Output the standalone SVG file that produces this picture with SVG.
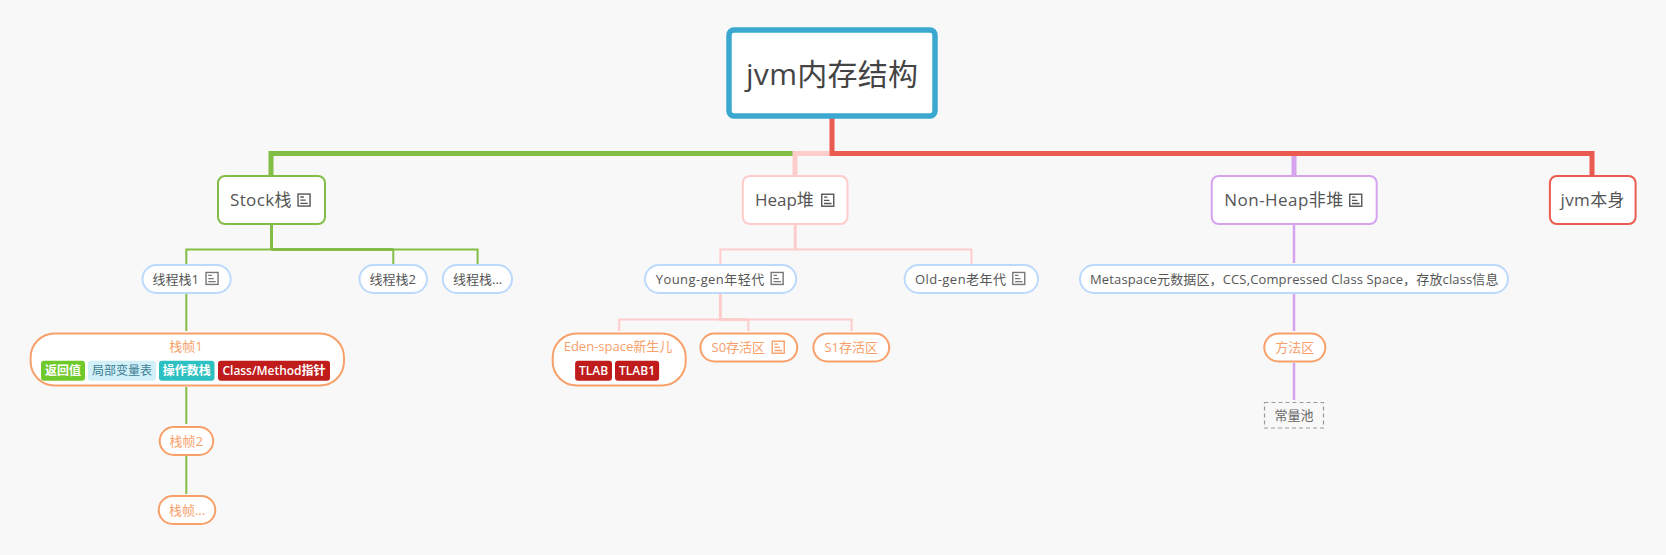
<svg xmlns="http://www.w3.org/2000/svg" width="1666" height="555" viewBox="0 0 1666 555">
<style>
text{font-family:"Open Sans","Noto Sans CJK SC",sans-serif;fill:#555}
.n{fill:#fff;stroke-width:2}
.l1{font-size:17px}
.l2{font-size:13px}
.l3{font-size:13px;fill:#f7a06a}
.g{stroke:#84bd45}.p{stroke:#ffcccc}.v{stroke:#d6a4ef}.r{stroke:#ea5c4f}
.b{stroke:#bcdafc}.o{stroke:#f7a06a}
.c{fill:none}
.tag{font-size:12px;font-weight:600;fill:#fff;text-anchor:middle}
.m{text-anchor:middle}
</style>
<defs>
<g id="ic" fill="none" stroke="currentColor">
<rect x="0.75" y="0.75" width="12" height="12" stroke-width="1.4"/>
<path d="M3 3.7h3.5M3 6.9h5.5M3 10h7.5" stroke-width="1.3"/>
</g>
</defs>
<rect width="1666" height="555" fill="#f8f8f8"/>
<g id="connectors" class="c">
<path class="g" stroke-width="5" d="M832 153.5H271V176"/>
<path class="p" stroke-width="5" d="M832 153.5H795V176"/>
<path class="v" stroke-width="5" d="M1294 153.5V176"/>
<path class="r" stroke-width="5" d="M832 118V153.5H1592V176"/>
<path class="g" stroke-width="3" d="M271.5 224V249.5"/>
<path class="g" stroke-width="2" d="M186.3 265V249.5H477.6V265M393.3 249.5V265"/>
<path class="g" stroke-width="3" d="M271.5 249.5H393.3"/>
<path class="g" stroke-width="2" d="M186.3 294V331M186.3 387V424M186.3 456V494"/>
<path class="p" stroke-width="3" d="M795.2 224V249.5"/>
<path class="p" stroke-width="2" d="M720.4 265V249.5H971.5V265"/>
<path class="p" stroke-width="3" d="M720.4 294V319.5H748.3"/>
<path class="p" stroke-width="2" d="M619.2 331V319.5H851.6V331M748.3 319.5V331"/>
<path class="v" stroke-width="2.5" d="M1294 224V263M1294 294V331M1294 363V400"/>
</g>
<g id="root"><rect x="729" y="30" width="206" height="86" rx="5" fill="#fff" stroke="#3ba8cf" stroke-width="5.5"/><text x="746" y="85" textLength="172" style="font-size:30px;fill:#444">jvm内存结构</text></g>
<g id="stock"><rect class="n g" x="218" y="176" width="107" height="48" rx="7"/><text class="l1" x="230" y="206" textLength="61.5">Stock栈</text><use href="#ic" x="297.3" y="193.3" color="#555"/></g>
<g id="heap"><rect class="n p" x="742.8" y="176" width="104.7" height="48" rx="7"/><text class="l1" x="754.9" y="206">Heap堆</text><use href="#ic" x="821" y="193.5" color="#555"/></g>
<g id="nonheap"><rect class="n v" x="1211.7" y="176" width="165" height="48" rx="7"/><text class="l1" x="1224.3" y="206" textLength="119">Non-Heap非堆</text><use href="#ic" x="1349" y="193.5" color="#555"/></g>
<g id="jvmself"><rect class="n r" x="1549.9" y="176" width="85.7" height="48" rx="7"/><text class="l1" x="1560.5" y="206" textLength="64">jvm本身</text></g>
<g id="t1"><rect class="n b" x="142.5" y="265" width="88.2" height="28" rx="14"/><text class="l2" x="152.5" y="283.5">线程栈1</text><use href="#ic" x="205.3" y="271.7" color="#777"/></g>
<g id="t2"><rect class="n b" x="359.5" y="265" width="67.5" height="28" rx="14"/><text class="l2" x="369.5" y="283.5">线程栈2</text></g>
<g id="t3"><rect class="n b" x="442.8" y="265" width="69.2" height="28" rx="14"/><text class="l2" x="453" y="283.5">线程栈...</text></g>
<g id="young"><rect class="n b" x="645" y="265" width="151.2" height="28" rx="14"/><text class="l2" x="655.7" y="283.5" textLength="108.5">Young-gen年轻代</text><use href="#ic" x="770.4" y="271.7" color="#777"/></g>
<g id="old"><rect class="n b" x="904.6" y="265" width="133.4" height="28" rx="14"/><text class="l2" x="915" y="283.5" textLength="91">Old-gen老年代</text><use href="#ic" x="1012" y="271.7" color="#777"/></g>
<g id="meta"><rect class="n b" x="1080" y="265" width="428" height="28" rx="14"/><text class="l2" x="1090" y="283.5" textLength="408.5">Metaspace元数据区，CCS,Compressed Class Space，存放class信息</text></g>
<g id="frame1"><rect class="n o" x="30.6" y="333.5" width="313.4" height="52" rx="24"/><text class="l3 m" x="186" y="351">栈帧1</text>
<rect x="41" y="360.7" width="44" height="20" rx="3" fill="#6fc92b"/><text class="tag" x="63" y="375">返回值</text>
<rect x="88" y="360.7" width="68" height="20" rx="3" fill="#d2f0f8"/><text class="tag" x="122" y="375" style="fill:#3d7d95;font-weight:400">局部变量表</text>
<rect x="159" y="360.7" width="55.5" height="20" rx="3" fill="#2cc0c0"/><text class="tag" x="186.8" y="375">操作数栈</text>
<rect x="218" y="360.7" width="112" height="20" rx="3" fill="#c01c1c"/><text class="tag" x="274" y="375" textLength="103">Class/Method指针</text></g>
<g id="frame2"><rect class="n o" x="159.7" y="427" width="53.5" height="28" rx="14"/><text class="l3 m" x="186.3" y="445.5">栈帧2</text></g>
<g id="frame3"><rect class="n o" x="158.7" y="496" width="56.6" height="28" rx="14"/><text class="l3 m" x="187" y="514.5">栈帧...</text></g>
<g id="eden"><rect class="n o" x="552.7" y="333.5" width="133" height="52" rx="24"/><text class="l3" x="563.7" y="351">Eden-space新生儿</text>
<rect x="575.1" y="360.7" width="36.9" height="20" rx="3" fill="#c01c1c"/><text class="tag" x="593.5" y="375">TLAB</text>
<rect x="615" y="360.7" width="44.1" height="20" rx="3" fill="#c01c1c"/><text class="tag" x="637" y="375">TLAB1</text></g>
<g id="s0"><rect class="n o" x="700.4" y="333.5" width="96.8" height="28" rx="14"/><text class="l3" x="711.5" y="352">S0存活区</text><use href="#ic" x="771.5" y="340.5" color="#f7a06a"/></g>
<g id="s1"><rect class="n o" x="813.4" y="333.5" width="75.8" height="28" rx="14"/><text class="l3" x="824.4" y="352">S1存活区</text></g>
<g id="method"><rect class="n o" x="1264.3" y="333.5" width="61" height="28" rx="14"/><text class="l3 m" x="1294.8" y="352">方法区</text></g>
<g id="pool"><rect x="1264.5" y="402.5" width="59" height="25.5" fill="#f8f8f8" stroke="#999" stroke-width="1.2" stroke-dasharray="4 3"/><text class="m" x="1294" y="420" style="font-size:13px;fill:#666">常量池</text></g>
</svg>
